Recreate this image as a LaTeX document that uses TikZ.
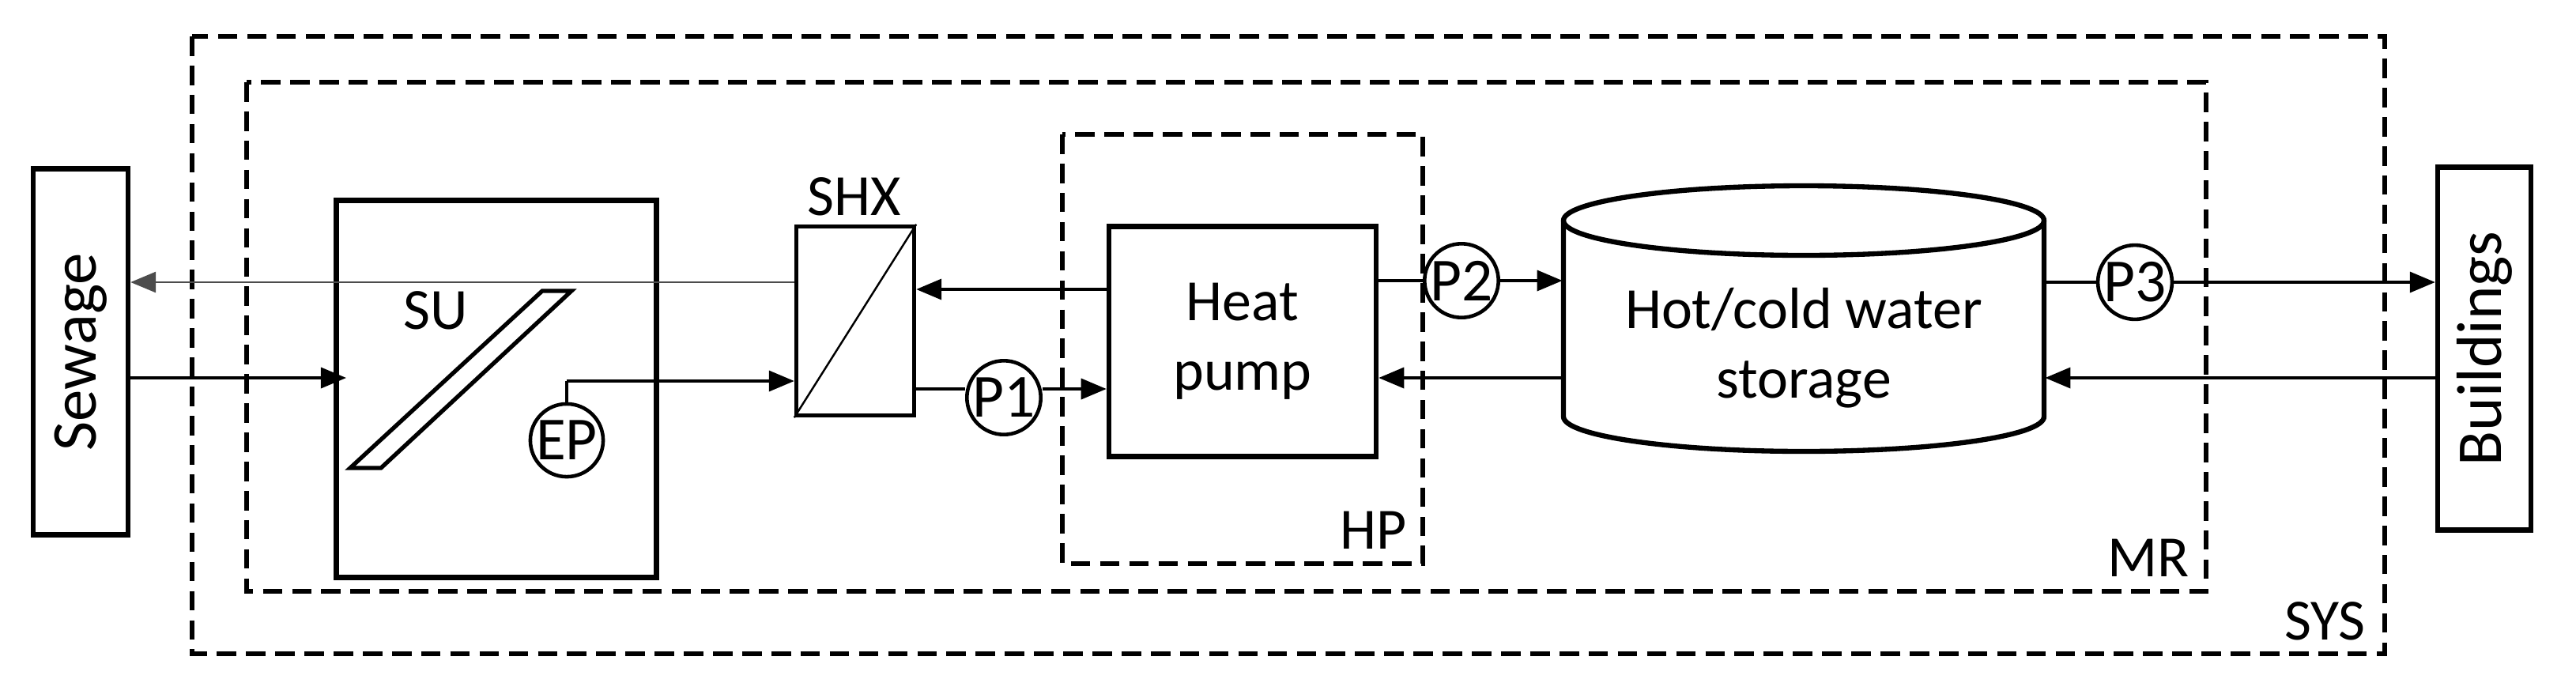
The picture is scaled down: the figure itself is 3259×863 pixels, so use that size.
\documentclass[tikz,border=0pt]{standalone}
\usepackage{fontspec}
\setmainfont{Carlito}
\usetikzlibrary{arrows.meta}
\begin{document}
\begin{tikzpicture}[x=0.01cm,y=-0.01cm,
  box/.style={draw,line width=1.8pt,rectangle,inner sep=0pt},
  dbox/.style={draw,line width=1.6pt,dash pattern=on 7pt off 3.5pt},
  pump/.style={draw,circle,line width=1.3pt,minimum size=0.9cm,inner sep=0pt,font=\fontsize{22}{24}\selectfont},
  arr/.style={line width=1pt,-{Triangle[length=0.32cm,width=0.26cm]}},
  ln/.style={line width=1pt},
  lbl/.style={font=\fontsize{21}{25}\selectfont}]
\useasboundingbox (0,0) rectangle (3259,863);
% boundaries
\draw[dbox] (243,46) rectangle (3017,827);
\draw[dbox] (312,104) rectangle (2791,748);
\draw[dbox] (1344,170) rectangle (1800,713);
\node[lbl,anchor=south east] (syslbl) at (3005,822) {SYS};
\node[lbl,anchor=south east] (mrlbl) at (2782,742) {MR};
\node[lbl,anchor=south east] (hplbl) at (1792,707) {HP};
% boxes
\node[box,minimum width=1.2cm,minimum height=4.63cm] (sew) at (102,445) {\rotatebox{90}{\fontsize{23}{26}\selectfont Sewage}};
\node[box,minimum width=1.18cm,minimum height=4.59cm] (bld) at (3143,441) {\rotatebox{90}{\fontsize{23}{26}\selectfont Buildings}};
\node[box,minimum width=4.05cm,minimum height=4.77cm] (su) at (628,492) {};
\node[lbl] (sulbl) at (551,393) {SU};
\draw[line width=1.5pt] (443,592) -- (482,592) -- (723,368) -- (686,368) -- cycle;
\node[pump] (ep) at (717,557) {EP};
\node[box,line width=1.5pt,minimum width=1.49cm,minimum height=2.39cm] (shx) at (1082,406) {};
\draw[line width=0.7pt] (shx.south west) -- (shx.north east);
\node[lbl] (shxlbl) at (1081,249) {SHX};
\node[pump] (p1) at (1270,503) {P1};
\node[box,minimum width=3.38cm,minimum height=2.91cm,lbl,align=center] (hp) at (1572,432) {Heat\\pump};
\node[pump] (p2) at (1849,355) {P2};
\node[pump] (p3) at (2701,357) {P3};
% tank
\node[minimum width=6.09cm,minimum height=2.92cm,inner sep=0pt,lbl,align=center] (tank) at (2282,440) {Hot/cold water\\storage};
\draw[line width=1.8pt] (2282,279) ellipse [x radius=304, y radius=44];
\draw[line width=1.8pt] (1978,279) -- (1978,527) arc[start angle=180,end angle=360,x radius=304,y radius=-44] -- (2586,279);
% connector levels
\coordinate (ya) at (0,357);
\coordinate (yb) at (0,478);
\coordinate (yc) at (0,366);
\coordinate (yd) at (0,492);
\coordinate (ye) at (0,355);
\coordinate (yf) at (0,478);
\coordinate (yg) at (0,357);
\coordinate (eph) at (0,482);
% connectors
\draw[arr,draw=black!70,line width=0.8pt] (shx.west |- ya) -- (sew.east |- ya);
\draw[arr] (sew.east |- yb) -- ([xshift=-0.05cm]443,478);
\draw[ln] (ep.north) -- (ep.north |- eph);
\draw[arr] (ep.north |- eph) -- (shx.west |- eph);
\draw[arr] (hp.west |- yc) -- (shx.east |- yc);
\draw[ln] (shx.east |- yd) -- (p1.west |- yd);
\draw[arr] (p1.east |- yd) -- (hp.west |- yd);
\draw[ln] (hp.east |- ye) -- (p2.west |- ye);
\draw[arr] (p2.east) -- (tank.west |- p2.east);
\draw[arr] (tank.west |- yf) -- (hp.east |- yf);
\draw[ln] (tank.east |- yg) -- (p3.west);
\draw[arr] (p3.east) -- (bld.west |- p3.east);
\draw[arr] (bld.west |- yf) -- (tank.east |- yf);
\end{tikzpicture}
\end{document}
